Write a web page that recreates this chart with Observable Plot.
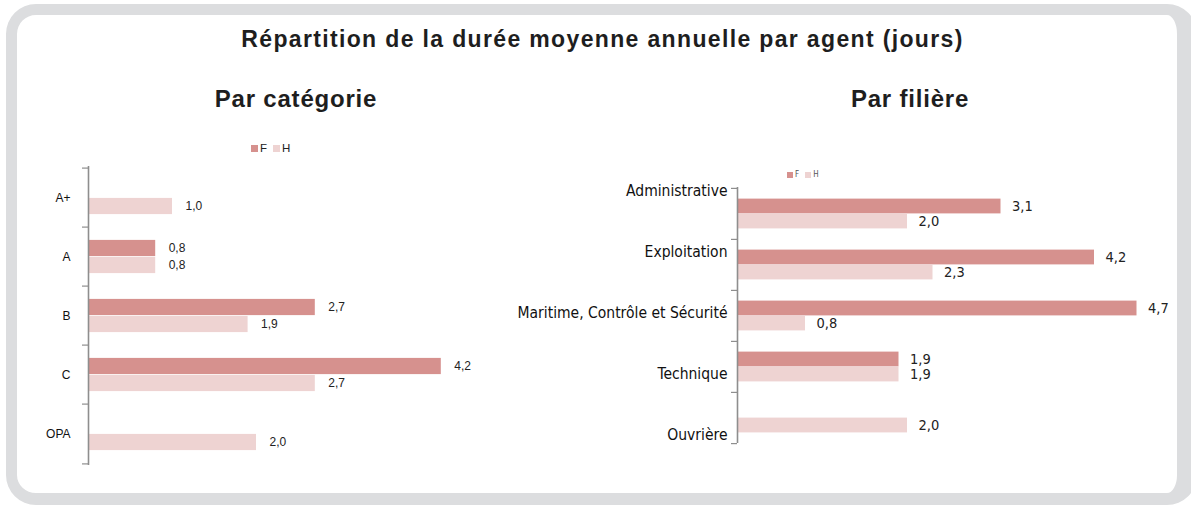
<!DOCTYPE html>
<html><head><meta charset="utf-8">
<script src="https://cdn.jsdelivr.net/npm/d3@7"></script>
<script src="https://cdn.jsdelivr.net/npm/@observablehq/plot@0.6"></script>
<style>
html,body{margin:0;padding:0;background:#fff;width:1191px;height:507px;overflow:hidden;position:relative;font-family:"Liberation Sans",Arial,sans-serif;}
#frame{position:absolute;left:6px;top:4px;width:1160px;height:478px;border-style:solid;border-color:#dcdddf;border-width:11px 20px 12px 11px;border-radius:30px;}
.abs{position:absolute;}
#title{left:0;width:1205px;top:26px;text-align:center;font-weight:bold;font-size:23px;letter-spacing:1.35px;color:#1e1e1e;}
.sub{font-weight:bold;font-size:24px;letter-spacing:0.8px;color:#1e1e1e;text-align:center;width:400px;}
.leg{display:flex;align-items:center;color:#222;}
.sw{display:inline-block;}
</style></head>
<body>
<div id="frame"></div>
<div id="title" class="abs">Répartition de la durée moyenne annuelle par agent (jours)</div>
<div class="abs sub" style="left:96px;top:85px;">Par catégorie</div>
<div class="abs sub" style="left:710px;top:85px;">Par filière</div>
<div id="leg1" class="abs leg" style="left:251px;top:142px;font-size:11.5px;"></div>
<div id="leg2" class="abs leg" style="left:787px;top:170px;font-size:8px;font-family:'Liberation Sans Narrow','DejaVu Sans Condensed',sans-serif;color:#555;"></div>
<div id="p1" class="abs" style="left:0;top:150px;"></div>
<div id="p2" class="abs" style="left:500px;top:170px;"></div>
<div id="p2l" class="abs" style="left:500px;top:170px;"></div>
<script>
// ---- data ----
const series = ["F", "H"];
const seriesColors = ["#d6918e", "#eed3d2"];
const categories = ["A+", "A", "B", "C", "OPA"];
const catF = [null, 0.8, 2.7, 4.2, null];
const catH = [1.0, 0.8, 1.9, 2.7, 2.0];
const filieres = ["Administrative", "Exploitation", "Maritime, Contrôle et Sécurité", "Technique", "Ouvrière"];
const filF = [3.1, 4.2, 4.7, 1.9, null];
const filH = [2.0, 2.3, 0.8, 1.9, 2.0];

const fmt = v => d3.format(".1f")(v).replace(".", ",");

function rows(cats, f, h) {
  const out = [];
  cats.forEach((c, i) => {
    if (f[i] != null) out.push({cat: c, s: "F", v: f[i]});
    if (h[i] != null) out.push({cat: c, s: "H", v: h[i]});
  });
  return out;
}

function legend(el, size, gap) {
  const node = document.getElementById(el);
  series.forEach((s, i) => {
    const sw = document.createElement("span");
    sw.className = "sw";
    sw.style.width = size + "px"; sw.style.height = size + "px";
    sw.style.background = seriesColors[i];
    sw.style.marginRight = "2px";
    sw.style.marginLeft = i ? gap + "px" : "0";
    node.appendChild(sw);
    const t = document.createElement("span");
    t.textContent = s;
    node.appendChild(t);
  });
}
legend("leg1", 7, 6);
legend("leg2", 6, 6);

function panel({cats, f, h, height, mt, mb, barH, labelFont, labelSize, axisColor, dxLabel}) {
  const data = rows(cats, f, h);
  const bw = (height - mt - mb) / cats.length;
  const color = {domain: series, range: seriesColors};
  const common = {y: "cat", fill: "s"};
  const marks = [
    Plot.barX(data.filter(d => d.s === "F"), {...common, x1: 0, x2: "v", insetTop: bw / 2 - barH, insetBottom: bw / 2}),
    Plot.barX(data.filter(d => d.s === "H"), {...common, x1: 0, x2: "v", insetTop: bw / 2, insetBottom: bw / 2 - barH}),
    Plot.text(data.filter(d => d.s === "F"), {x: "v", y: "cat", text: d => fmt(d.v), dx: dxLabel, dy: -barH / 2, textAnchor: "start", fill: "#222", fontSize: labelSize, fontFamily: labelFont}),
    Plot.text(data.filter(d => d.s === "H"), {x: "v", y: "cat", text: d => fmt(d.v), dx: dxLabel, dy: barH / 2, textAnchor: "start", fill: "#222", fontSize: labelSize, fontFamily: labelFont}),
    Plot.ruleX([0], {stroke: axisColor, strokeWidth: 1.6}),
    Plot.axisY({tickSize: 6, tickFormat: () => "", label: null, dy: -bw / 2, stroke: axisColor, strokeWidth: 1.2}),
    Plot.axisY({ticks: [cats[cats.length - 1]], tickSize: 6, tickFormat: () => "", label: null, dy: bw / 2, stroke: axisColor, strokeWidth: 1.2})
  ];
  return {data, bw, marks, color};
}

// Left panel
{
  const W = 520, H = 330, mt = 16, mb = 15, ml = 88;
  const p = panel({cats: categories, f: catF, h: catH, height: H, mt, mb, barH: 17, labelFont: "Liberation Sans, Arial, sans-serif", labelSize: 12, axisColor: "#8e8e8e", dxLabel: 13});
  p.marks.push(Plot.axisY({tickSize: 0, tickPadding: 18, fontSize: 12, fill: "#111", textAnchor: "end", label: null}));
  const chart = Plot.plot({
    width: W, height: H, marginTop: mt, marginBottom: mb, marginLeft: ml, marginRight: W - ml - 84 * 5,
    style: {fontFamily: "Liberation Sans, Arial, sans-serif", background: "transparent", overflow: "visible"},
    x: {domain: [0, 5], axis: null},
    y: {domain: categories, padding: 0, axis: null, label: null},
    color: p.color,
    marks: p.marks
  });
  document.getElementById("p1").appendChild(chart);
}

// Right panel
{
  const W = 690, H = 290, mt = 17, mb = 17, ml = 237;
  const narrow = "Liberation Sans Narrow, DejaVu Sans Condensed, sans-serif";
  const p = panel({cats: filieres, f: filF, h: filH, height: H, mt, mb, barH: 15, labelFont: narrow, labelSize: 14.5, axisColor: "#8e8e8e", dxLabel: 11});
  const chart = Plot.plot({
    width: W, height: H, marginTop: mt, marginBottom: mb, marginLeft: ml, marginRight: W - ml - 85 * 5,
    style: {fontFamily: narrow, background: "transparent", overflow: "visible"},
    x: {domain: [0, 5], axis: null},
    y: {domain: filieres, padding: 0, axis: null, label: null},
    color: p.color,
    marks: p.marks
  });
  document.getElementById("p2").appendChild(chart);
  // category labels (spread evenly along the axis, as in the source)
  const labels = Plot.plot({
    width: W, height: H, marginTop: mt, marginBottom: mb, marginLeft: ml, marginRight: 10,
    style: {fontFamily: narrow, background: "transparent", overflow: "visible"},
    y: {type: "point", domain: filieres, range: [20, 266], padding: 0, axis: null, label: null},
    marks: [Plot.axisY({tickSize: 0, tickPadding: 10, fontSize: 15.5, fill: "#111", textAnchor: "end", label: null})]
  });
  document.getElementById("p2l").appendChild(labels);
}
</script>
</body></html>
